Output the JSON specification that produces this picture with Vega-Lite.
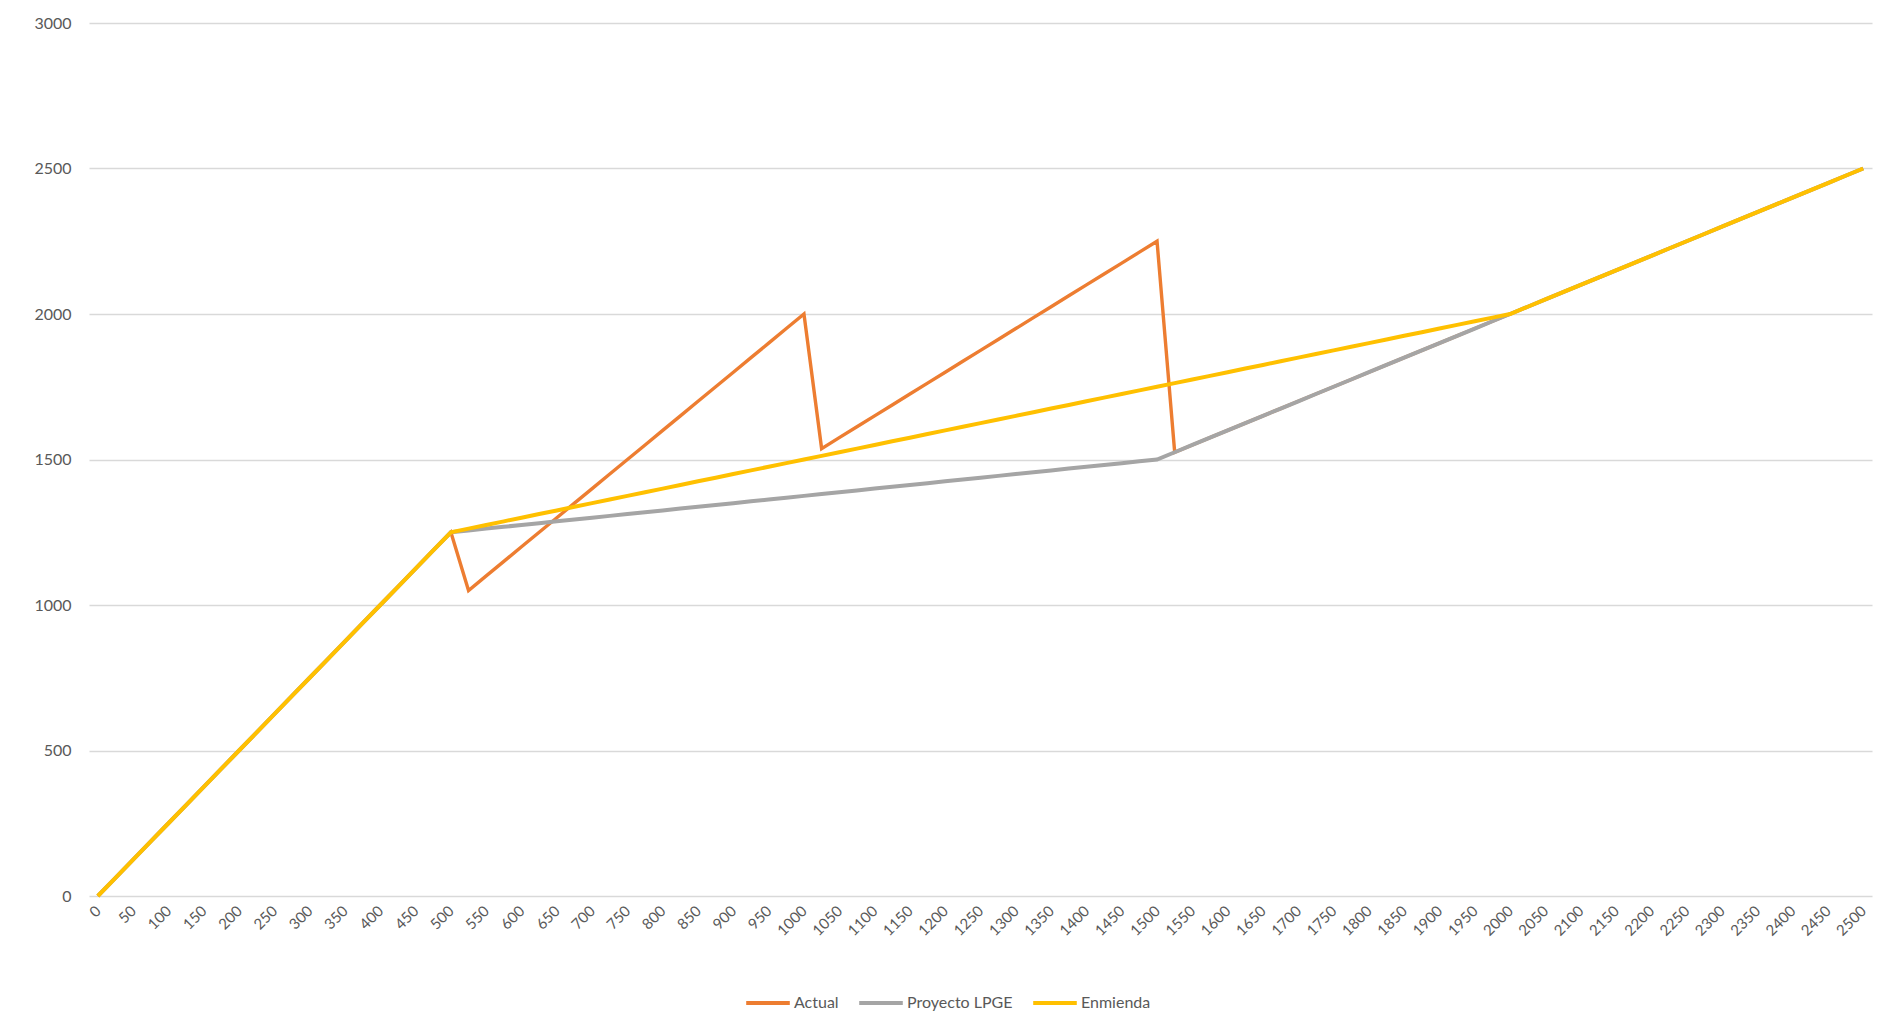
{
  "$schema": "https://vega.github.io/schema/vega-lite/v6.json",
  "width": 1783,
  "height": 873,
  "autosize": {"type": "none"},
  "padding": {"left": 89, "top": 23, "right": 8, "bottom": 133},
  "background": "white",
  "config": {
    "view": {"stroke": null},
    "font": "Lato",
    "axis": {"labelColor": "#595959", "labelFont": "Lato", "title": null, "domain": false, "ticks": false},
    "legend": {"labelColor": "#595959", "labelFont": "Lato", "labelFontSize": 16, "padding": 0}
  },
  "datasets": {
    "actual": [
      {"x":0,"y":0},{"x":25,"y":62.5},{"x":50,"y":125},{"x":75,"y":187.5},{"x":100,"y":250},{"x":125,"y":312.5},{"x":150,"y":375},{"x":175,"y":437.5},{"x":200,"y":500},{"x":225,"y":562.5},{"x":250,"y":625},{"x":275,"y":687.5},{"x":300,"y":750},{"x":325,"y":812.5},{"x":350,"y":875},{"x":375,"y":937.5},{"x":400,"y":1000},{"x":425,"y":1062.5},{"x":450,"y":1125},{"x":475,"y":1187.5},{"x":500,"y":1250},
      {"x":525,"y":1050},{"x":550,"y":1100},{"x":575,"y":1150},{"x":600,"y":1200},{"x":625,"y":1250},{"x":650,"y":1300},{"x":675,"y":1350},{"x":700,"y":1400},{"x":725,"y":1450},{"x":750,"y":1500},{"x":775,"y":1550},{"x":800,"y":1600},{"x":825,"y":1650},{"x":850,"y":1700},{"x":875,"y":1750},{"x":900,"y":1800},{"x":925,"y":1850},{"x":950,"y":1900},{"x":975,"y":1950},{"x":1000,"y":2000},
      {"x":1025,"y":1537.5},{"x":1050,"y":1575},{"x":1075,"y":1612.5},{"x":1100,"y":1650},{"x":1125,"y":1687.5},{"x":1150,"y":1725},{"x":1175,"y":1762.5},{"x":1200,"y":1800},{"x":1225,"y":1837.5},{"x":1250,"y":1875},{"x":1275,"y":1912.5},{"x":1300,"y":1950},{"x":1325,"y":1987.5},{"x":1350,"y":2025},{"x":1375,"y":2062.5},{"x":1400,"y":2100},{"x":1425,"y":2137.5},{"x":1450,"y":2175},{"x":1475,"y":2212.5},{"x":1500,"y":2250},
      {"x":1525,"y":1525},{"x":1550,"y":1550},{"x":1575,"y":1575},{"x":1600,"y":1600},{"x":1625,"y":1625},{"x":1650,"y":1650},{"x":1675,"y":1675},{"x":1700,"y":1700},{"x":1725,"y":1725},{"x":1750,"y":1750},{"x":1775,"y":1775},{"x":1800,"y":1800},{"x":1825,"y":1825},{"x":1850,"y":1850},{"x":1875,"y":1875},{"x":1900,"y":1900},{"x":1925,"y":1925},{"x":1950,"y":1950},{"x":1975,"y":1975},{"x":2000,"y":2000},
      {"x":2025,"y":2025},{"x":2050,"y":2050},{"x":2075,"y":2075},{"x":2100,"y":2100},{"x":2125,"y":2125},{"x":2150,"y":2150},{"x":2175,"y":2175},{"x":2200,"y":2200},{"x":2225,"y":2225},{"x":2250,"y":2250},{"x":2275,"y":2275},{"x":2300,"y":2300},{"x":2325,"y":2325},{"x":2350,"y":2350},{"x":2375,"y":2375},{"x":2400,"y":2400},{"x":2425,"y":2425},{"x":2450,"y":2450},{"x":2475,"y":2475},{"x":2500,"y":2500}
    ],
    "proyecto": [
      {"x":0,"y":0},{"x":25,"y":62.5},{"x":50,"y":125},{"x":75,"y":187.5},{"x":100,"y":250},{"x":125,"y":312.5},{"x":150,"y":375},{"x":175,"y":437.5},{"x":200,"y":500},{"x":225,"y":562.5},{"x":250,"y":625},{"x":275,"y":687.5},{"x":300,"y":750},{"x":325,"y":812.5},{"x":350,"y":875},{"x":375,"y":937.5},{"x":400,"y":1000},{"x":425,"y":1062.5},{"x":450,"y":1125},{"x":475,"y":1187.5},{"x":500,"y":1250},
      {"x":525,"y":1256.25},{"x":550,"y":1262.5},{"x":575,"y":1268.75},{"x":600,"y":1275},{"x":625,"y":1281.25},{"x":650,"y":1287.5},{"x":675,"y":1293.75},{"x":700,"y":1300},{"x":725,"y":1306.25},{"x":750,"y":1312.5},{"x":775,"y":1318.75},{"x":800,"y":1325},{"x":825,"y":1331.25},{"x":850,"y":1337.5},{"x":875,"y":1343.75},{"x":900,"y":1350},{"x":925,"y":1356.25},{"x":950,"y":1362.5},{"x":975,"y":1368.75},{"x":1000,"y":1375},
      {"x":1025,"y":1381.25},{"x":1050,"y":1387.5},{"x":1075,"y":1393.75},{"x":1100,"y":1400},{"x":1125,"y":1406.25},{"x":1150,"y":1412.5},{"x":1175,"y":1418.75},{"x":1200,"y":1425},{"x":1225,"y":1431.25},{"x":1250,"y":1437.5},{"x":1275,"y":1443.75},{"x":1300,"y":1450},{"x":1325,"y":1456.25},{"x":1350,"y":1462.5},{"x":1375,"y":1468.75},{"x":1400,"y":1475},{"x":1425,"y":1481.25},{"x":1450,"y":1487.5},{"x":1475,"y":1493.75},{"x":1500,"y":1500},
      {"x":1525,"y":1525},{"x":1550,"y":1550},{"x":1575,"y":1575},{"x":1600,"y":1600},{"x":1625,"y":1625},{"x":1650,"y":1650},{"x":1675,"y":1675},{"x":1700,"y":1700},{"x":1725,"y":1725},{"x":1750,"y":1750},{"x":1775,"y":1775},{"x":1800,"y":1800},{"x":1825,"y":1825},{"x":1850,"y":1850},{"x":1875,"y":1875},{"x":1900,"y":1900},{"x":1925,"y":1925},{"x":1950,"y":1950},{"x":1975,"y":1975},{"x":2000,"y":2000},
      {"x":2025,"y":2025},{"x":2050,"y":2050},{"x":2075,"y":2075},{"x":2100,"y":2100},{"x":2125,"y":2125},{"x":2150,"y":2150},{"x":2175,"y":2175},{"x":2200,"y":2200},{"x":2225,"y":2225},{"x":2250,"y":2250},{"x":2275,"y":2275},{"x":2300,"y":2300},{"x":2325,"y":2325},{"x":2350,"y":2350},{"x":2375,"y":2375},{"x":2400,"y":2400},{"x":2425,"y":2425},{"x":2450,"y":2450},{"x":2475,"y":2475},{"x":2500,"y":2500}
    ],
    "enmienda": [
      {"x":0,"y":0},{"x":25,"y":62.5},{"x":50,"y":125},{"x":75,"y":187.5},{"x":100,"y":250},{"x":125,"y":312.5},{"x":150,"y":375},{"x":175,"y":437.5},{"x":200,"y":500},{"x":225,"y":562.5},{"x":250,"y":625},{"x":275,"y":687.5},{"x":300,"y":750},{"x":325,"y":812.5},{"x":350,"y":875},{"x":375,"y":937.5},{"x":400,"y":1000},{"x":425,"y":1062.5},{"x":450,"y":1125},{"x":475,"y":1187.5},{"x":500,"y":1250},
      {"x":525,"y":1262.5},{"x":550,"y":1275},{"x":575,"y":1287.5},{"x":600,"y":1300},{"x":625,"y":1312.5},{"x":650,"y":1325},{"x":675,"y":1337.5},{"x":700,"y":1350},{"x":725,"y":1362.5},{"x":750,"y":1375},{"x":775,"y":1387.5},{"x":800,"y":1400},{"x":825,"y":1412.5},{"x":850,"y":1425},{"x":875,"y":1437.5},{"x":900,"y":1450},{"x":925,"y":1462.5},{"x":950,"y":1475},{"x":975,"y":1487.5},{"x":1000,"y":1500},
      {"x":1025,"y":1512.5},{"x":1050,"y":1525},{"x":1075,"y":1537.5},{"x":1100,"y":1550},{"x":1125,"y":1562.5},{"x":1150,"y":1575},{"x":1175,"y":1587.5},{"x":1200,"y":1600},{"x":1225,"y":1612.5},{"x":1250,"y":1625},{"x":1275,"y":1637.5},{"x":1300,"y":1650},{"x":1325,"y":1662.5},{"x":1350,"y":1675},{"x":1375,"y":1687.5},{"x":1400,"y":1700},{"x":1425,"y":1712.5},{"x":1450,"y":1725},{"x":1475,"y":1737.5},{"x":1500,"y":1750},
      {"x":1525,"y":1762.5},{"x":1550,"y":1775},{"x":1575,"y":1787.5},{"x":1600,"y":1800},{"x":1625,"y":1812.5},{"x":1650,"y":1825},{"x":1675,"y":1837.5},{"x":1700,"y":1850},{"x":1725,"y":1862.5},{"x":1750,"y":1875},{"x":1775,"y":1887.5},{"x":1800,"y":1900},{"x":1825,"y":1912.5},{"x":1850,"y":1925},{"x":1875,"y":1937.5},{"x":1900,"y":1950},{"x":1925,"y":1962.5},{"x":1950,"y":1975},{"x":1975,"y":1987.5},{"x":2000,"y":2000},
      {"x":2025,"y":2025},{"x":2050,"y":2050},{"x":2075,"y":2075},{"x":2100,"y":2100},{"x":2125,"y":2125},{"x":2150,"y":2150},{"x":2175,"y":2175},{"x":2200,"y":2200},{"x":2225,"y":2225},{"x":2250,"y":2250},{"x":2275,"y":2275},{"x":2300,"y":2300},{"x":2325,"y":2325},{"x":2350,"y":2350},{"x":2375,"y":2375},{"x":2400,"y":2400},{"x":2425,"y":2425},{"x":2450,"y":2450},{"x":2475,"y":2475},{"x":2500,"y":2500}
    ]
  },
  "encoding": {
    "x": {
      "field": "x", "type": "quantitative",
      "scale": {"domain": [-12.5, 2512.5], "nice": false, "zero": false},
      "axis": {
        "values": [0,50,100,150,200,250,300,350,400,450,500,550,600,650,700,750,800,850,900,950,1000,1050,1100,1150,1200,1250,1300,1350,1400,1450,1500,1550,1600,1650,1700,1750,1800,1850,1900,1950,2000,2050,2100,2150,2200,2250,2300,2350,2400,2450,2500],
        "format": "d",
        "labelAngle": -45, "labelAlign": "right", "labelBaseline": "middle",
        "labelFontSize": 15, "labelPadding": 12, "labelOverlap": false, "labelBound": false,
        "grid": false
      }
    },
    "y": {
      "field": "y", "type": "quantitative",
      "scale": {"domain": [0, 3000], "nice": false},
      "axis": {
        "values": [0,500,1000,1500,2000,2500,3000],
        "format": "d",
        "grid": true, "gridColor": "#D9D9D9", "gridWidth": 1.3,
        "labelFontSize": 16, "labelPadding": 18
      }
    }
  },
  "layer": [
    {
      "data": {"name": "actual"},
      "mark": {"type": "line", "strokeWidth": 3.4},
      "encoding": {
        "color": {
          "datum": "Actual", "type": "nominal",
          "scale": {"domain": ["Actual", "Proyecto LPGE", "Enmienda"], "range": ["#ED7D31", "#A5A5A5", "#FFC000"]},
          "legend": {
            "title": null, "orient": "none", "direction": "horizontal",
            "legendX": 655, "legendY": 956,
            "symbolType": "stroke", "symbolSize": 1900, "symbolStrokeWidth": 4,
            "labelOffset": 2, "columnPadding": 12
          }
        }
      }
    },
    {
      "data": {"name": "proyecto"},
      "mark": {"type": "line", "strokeWidth": 4},
      "encoding": {"color": {"datum": "Proyecto LPGE", "type": "nominal"}}
    },
    {
      "data": {"name": "enmienda"},
      "mark": {"type": "line", "strokeWidth": 4},
      "encoding": {"color": {"datum": "Enmienda", "type": "nominal"}}
    }
  ]
}
